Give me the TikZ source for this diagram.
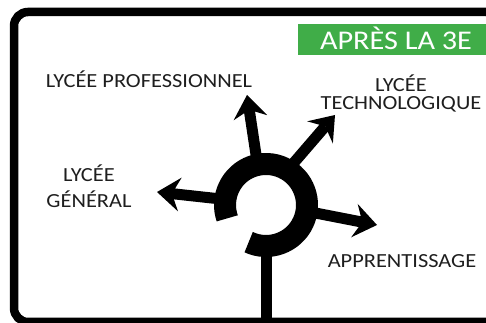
\documentclass[tikz,border=0pt]{standalone}
\usepackage{fontspec}
\setmainfont{Carlito}[FakeStretch=1.12]
\usepackage{xcolor}
\usetikzlibrary{arrows.meta}

\definecolor{signgreen}{RGB}{64,173,72}
\definecolor{signink}{RGB}{30,30,30}

\begin{document}
\begin{tikzpicture}[x=1pt,y=1pt,
  exitroad/.style={line width=11pt, -{Stealth[length=23pt,width=34pt,inset=8pt,line width=0pt]}},
  place/.style={text=signink, font=\fontsize{20}{18}\selectfont, align=center, anchor=base, inner sep=0pt}]
  \useasboundingbox (0,0) rectangle (486,323);
  \clip (0,0) rectangle (486,323);

  % Frame of the sign
  \draw[line width=8.5pt, rounded corners=14pt] (14,1) rectangle (500,311);

  % Green title box
  \fill[signgreen] (298,268) rectangle (490,299);
  \node[anchor=base, text=white, font=\fontsize{27}{27}\selectfont, inner sep=0pt] (titre) at (396,273) {APRÈS LA 3E};

  % Roundabout and the road coming in
  \coordinate (rond) at (266,118);
  \draw[line width=22pt] (rond) ++(245:41) arc[start angle=245, end angle=559, radius=41];
  \coordinate (entree) at (266,75);
  \coordinate (bas) at (266,-5);
  \draw[line width=11pt] (entree) -- (bas);

  % Exits
  \coordinate (s1) at (258,155); \coordinate (t1) at (247,228);
  \coordinate (s2) at (285,150); \coordinate (t2) at (335,208);
  \coordinate (s3) at (230,123); \coordinate (t3) at (157,131);
  \coordinate (s4) at (300,113); \coordinate (t4) at (377,98);
  \foreach \i in {1,...,4}
    \draw[exitroad] (s\i) -- (t\i);

  % Labels
  \node[place] (pro) at (149,235) {LYCÉE PROFESSIONNEL};
  \node[place] (techno) at (401,213) {LYCÉE\\TECHNOLOGIQUE};
  \node[place, font=\fontsize{20}{26}\selectfont] (general) at (89,115) {LYCÉE\\GÉNÉRAL};
  \node[place] (apprent) at (402,55) {APPRENTISSAGE};
\end{tikzpicture}
\end{document}
